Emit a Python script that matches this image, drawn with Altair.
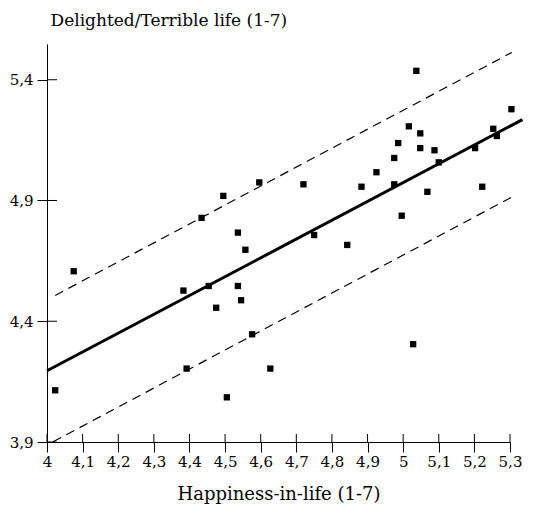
import altair as alt
import pandas as pd

# Scatter points
x_vals = [4.023, 4.075, 4.596, 4.495, 4.434, 4.536, 4.557, 4.383, 4.454, 4.536,
          4.545, 4.475, 4.576, 4.392, 4.627, 4.505, 4.720, 4.750, 4.843, 4.883,
          4.925, 4.975, 4.975, 4.986, 4.996, 5.016, 5.028, 5.037, 5.048, 5.048,
          5.068, 5.088, 5.100, 5.202, 5.222, 5.253, 5.263, 5.304]
y_vals = [4.114, 4.607, 4.975, 4.919, 4.828, 4.767, 4.696, 4.527, 4.546, 4.546,
          4.487, 4.456, 4.346, 4.204, 4.204, 4.085, 4.967, 4.757, 4.716, 4.957,
          5.017, 5.076, 4.967, 5.138, 4.837, 5.207, 4.305, 5.437, 5.178, 5.117,
          4.936, 5.108, 5.058, 5.117, 4.957, 5.197, 5.167, 5.278]

# Fitted line and band
fit_x = [4.0, 5.335]
fit_y = [4.195, 5.235]
upper_x = [4.023, 5.305]
upper_y = [4.507, 5.513]
lower_x = [4.017, 5.305]
lower_y = [3.901, 4.914]

x_ticks = [4.0, 4.1, 4.2, 4.3, 4.4, 4.5, 4.6, 4.7, 4.8, 4.9, 5.0, 5.1, 5.2, 5.3]
y_ticks = [3.9, 4.4, 4.9, 5.4]

W, H = 463, 398
FONT = "DejaVu Serif"

pts = pd.DataFrame({"x": x_vals, "y": y_vals})
fit = pd.DataFrame({"x": fit_x, "y": fit_y})
band = pd.concat([
    pd.DataFrame({"x": upper_x, "y": upper_y, "g": "upper"}),
    pd.DataFrame({"x": lower_x, "y": lower_y, "g": "lower"}),
])
xt = pd.DataFrame({"x": x_ticks})
yt = pd.DataFrame({"y": y_ticks})

xscale = alt.Scale(domain=[4.0, 5.3], nice=False, zero=False)
yscale = alt.Scale(domain=[3.9, 5.548], nice=False, zero=False)

LBL = "replace(format(datum.value, '.1~f'), '.', ',')"

xaxis = alt.Axis(values=x_ticks, labelExpr=LBL,
                 title="Happiness-in-life (1-7)", grid=False,
                 labelOverlap=False, labelFlush=False, labelSeparation=0,
                 tickSize=10, labelPadding=2, titlePadding=16,
                 domainColor="black", tickColor="black", labelColor="black",
                 titleColor="black", labelFont=FONT, titleFont=FONT,
                 labelFontSize=15, titleFontSize=18, titleFontWeight="normal")
yaxis = alt.Axis(values=y_ticks, labelExpr=LBL,
                 title="Delighted/Terrible life (1-7)", grid=False,
                 labelOverlap=False, labelFlush=False,
                 tickSize=10, labelPadding=4,
                 titleAngle=0, titleAlign="left", titleBaseline="alphabetic",
                 titleX=3, titleY=-19,
                 domainColor="black", tickColor="black", labelColor="black",
                 titleColor="black", labelFont=FONT, titleFont=FONT,
                 labelFontSize=15, titleFontSize=17, titleFontWeight="normal")

X = alt.X("x:Q", scale=xscale, axis=xaxis)
Y = alt.Y("y:Q", scale=yscale, axis=yaxis)

points = alt.Chart(pts).mark_square(size=40, color="black", opacity=1).encode(x=X, y=Y)
fit_line = alt.Chart(fit).mark_line(color="black", strokeWidth=3).encode(x=X, y=Y)
band_lines = alt.Chart(band).mark_line(color="black", strokeWidth=1.2,
                                       strokeDash=[9, 6]).encode(x=X, y=Y, detail="g:N")
x_inner = alt.Chart(xt).mark_rule(color="black", strokeWidth=1).encode(
    x=X, y=alt.value(H), y2=alt.value(H - 8))
y_inner = alt.Chart(yt).mark_rule(color="black", strokeWidth=1).encode(
    y=Y, x=alt.value(0), x2=alt.value(10))

chart = alt.layer(points, band_lines, fit_line, x_inner, y_inner).properties(
    width=W, height=H,
    padding={"left": 47, "top": 44, "right": 25, "bottom": 72},
    autosize=alt.AutoSizeParams(type="none"),
    background="white",
).configure_view(stroke=None).configure_axis(labelOverlap=False)

chart.save("out.html", embed_options={"renderer": "svg", "actions": False})
